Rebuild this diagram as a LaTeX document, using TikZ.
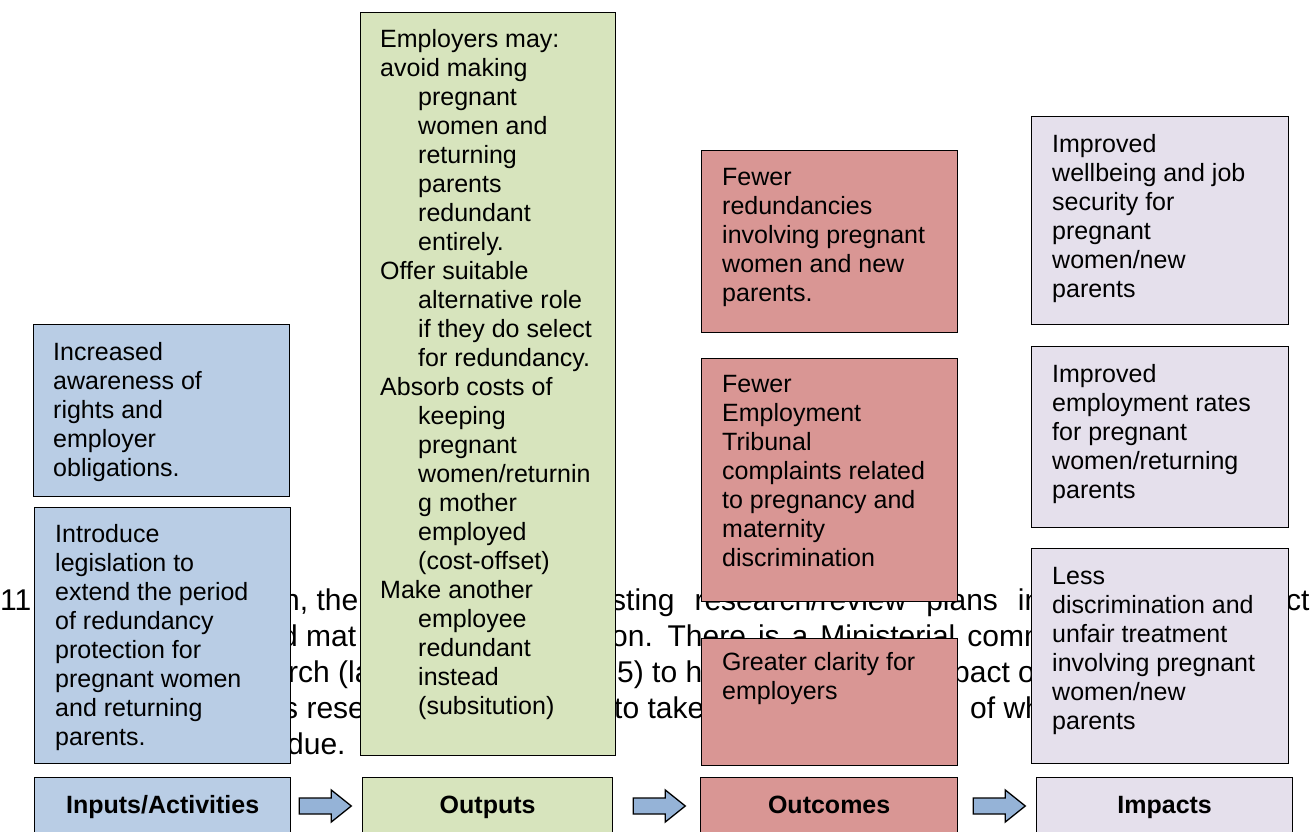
\documentclass[tikz,border=0pt]{standalone}
\usepackage{fontspec}
\setmainfont{Liberation Sans}
\usetikzlibrary{calc}
\definecolor{inblue}{HTML}{B9CDE5}
\definecolor{outgreen}{HTML}{D7E4BD}
\definecolor{outred}{HTML}{D99694}
\definecolor{implav}{HTML}{E5E0EC}
\definecolor{arrblue}{HTML}{95B3D7}
% block arrow pointing right, starting at the middle of its tail
\newcommand\flowarrow[1]{\draw[flow] #1 ++(0,-8) -- ++(32,0) -- ++(0,-8) -- ++(20,16) -- ++(-20,16) -- ++(0,-8) -- ++(-32,0) -- cycle;}
\begin{document}
\begin{tikzpicture}[x=1pt,y=-1pt,
  box/.style={draw=black, line width=1.3pt, rectangle, inner sep=0pt, anchor=north west},
  boxtext/.style={anchor=north west, inner sep=0pt, align=left, font=\fontsize{25}{29}\selectfont},
  headtext/.style={anchor=base, inner sep=0pt, font=\fontsize{25}{29}\selectfont\bfseries},
  bgtext/.style={anchor=base west, inner sep=0pt, font=\fontsize{30}{36}\selectfont},
  flow/.style={draw=black, line width=1.3pt, fill=arrblue, line join=miter}]
\useasboundingbox (0,0) rectangle (1314,832);
\clip (0,0) rectangle (1314,832);
\fill[white] (0,0) rectangle (1314,832);

% paragraph of the page behind the chart
\node[bgtext] (p1a) at (0,610) {11.};
\node[bgtext] (p1b) at (283,610) {n, the};
\node[bgtext] (p1c) at (611,610) {\spaceskip=20pt sting research/review plans in};
\node[bgtext] (p1d) at (1286,610) {ct};
\node[bgtext] (p2b) at (281,646) {d mat};
\node[bgtext] (p2c) at (611,646) {\spaceskip=12pt on. There is a Ministerial comm};
\node[bgtext] (p3b) at (288,682) {rch (la};
\node[bgtext] (p3c) at (617,682) {5) to h};
\node[bgtext] (p3d) at (953,682) {pact of};
\node[bgtext] (p4b) at (283,718) {s rese};
\node[bgtext] (p4c) at (614,718) {to take};
\node[bgtext] (p4d) at (970,718) {of wh};
\node[bgtext] (p5b) at (287,754) {due.};

% inputs / activities
\node[box, fill=inblue, minimum width=256pt, minimum height=172pt] (aware) at (33,324) {};
\node[boxtext] (awaret) at ($(aware.north west)+(20,16)$) {\strut Increased\\awareness of\\rights and\\employer\\obligations.};
\node[box, fill=inblue, minimum width=256pt, minimum height=256pt] (legis) at (34,507) {};
\node[boxtext] (legist) at ($(legis.north west)+(21,15)$) {\strut Introduce\\legislation to\\extend the period\\of redundancy\\protection for\\pregnant women\\and returning\\parents.};

% outputs
\node[box, fill=outgreen, minimum width=255pt, minimum height=743pt] (emp) at (360,12) {};
\node[boxtext] (empt) at ($(emp.north west)+(20,15)$) {\strut Employers may:\\avoid making\\
\hspace*{38pt}pregnant\\\hspace*{38pt}women and\\\hspace*{38pt}returning\\\hspace*{38pt}parents\\
\hspace*{38pt}redundant\\\hspace*{38pt}entirely.\\
Offer suitable\\\hspace*{38pt}alternative role\\\hspace*{38pt}if they do select\\\hspace*{38pt}for redundancy.\\
Absorb costs of\\\hspace*{38pt}keeping\\\hspace*{38pt}pregnant\\\hspace*{38pt}women/returnin\\
\hspace*{38pt}g mother\\\hspace*{38pt}employed\\\hspace*{38pt}(cost-offset)\\
Make another\\\hspace*{38pt}employee\\\hspace*{38pt}redundant\\\hspace*{38pt}instead\\\hspace*{38pt}(subsitution)};

% outcomes
\node[box, fill=outred, minimum width=256pt, minimum height=182pt] (fewred) at (701,150) {};
\node[boxtext] (fewredt) at ($(fewred.north west)+(21,15)$) {\strut Fewer\\redundancies\\involving pregnant\\women and new\\parents.};
\node[box, fill=outred, minimum width=256pt, minimum height=243pt] (fewtrib) at (701,358) {};
\node[boxtext] (fewtribt) at ($(fewtrib.north west)+(21,14)$) {\strut Fewer\\Employment\\Tribunal\\complaints related\\to pregnancy and\\maternity\\discrimination};
\node[box, fill=outred, minimum width=256pt, minimum height=127pt] (clarity) at (701,638) {};
\node[boxtext] (clarityt) at ($(clarity.north west)+(21,12)$) {\strut Greater clarity for\\employers};

% impacts
\node[box, fill=implav, minimum width=257pt, minimum height=208pt] (wellb) at (1031,116) {};
\node[boxtext] (wellbt) at ($(wellb.north west)+(21,16)$) {\strut Improved\\wellbeing and job\\security for\\pregnant\\women/new\\parents};
\node[box, fill=implav, minimum width=257pt, minimum height=181pt] (rates) at (1031,346) {};
\node[boxtext] (ratest) at ($(rates.north west)+(21,16)$) {\strut Improved\\employment rates\\for pregnant\\women/returning\\parents};
\node[box, fill=implav, minimum width=257pt, minimum height=215pt] (lessd) at (1031,548) {};
\node[boxtext] (lessdt) at ($(lessd.north west)+(21,16)$) {\strut Less\\discrimination and\\unfair treatment\\involving pregnant\\women/new\\parents};

% column headings along the bottom
\node[box, fill=inblue, minimum width=256pt, minimum height=70pt] (hin) at (34,777) {};
\node[headtext] (hint) at ($(hin.north)+(0,36)$) {Inputs/Activities};
\node[box, fill=outgreen, minimum width=250pt, minimum height=70pt] (hout) at (362,777) {};
\node[headtext] (houtt) at ($(hout.north)+(0,36)$) {Outputs};
\node[box, fill=outred, minimum width=257pt, minimum height=70pt] (hoc) at (700,777) {};
\node[headtext] (hoct) at ($(hoc.north)+(0,36)$) {Outcomes};
\node[box, fill=implav, minimum width=256pt, minimum height=70pt] (himp) at (1036,777) {};
\node[headtext] (himpt) at ($(himp.north)+(0,36)$) {Impacts};

% arrows between the headings
\flowarrow{($(hin.north east)+(8,29)$)}
\flowarrow{($(hout.north east)+(20,29)$)}
\flowarrow{($(hoc.north east)+(15,29)$)}
\end{tikzpicture}
\end{document}
